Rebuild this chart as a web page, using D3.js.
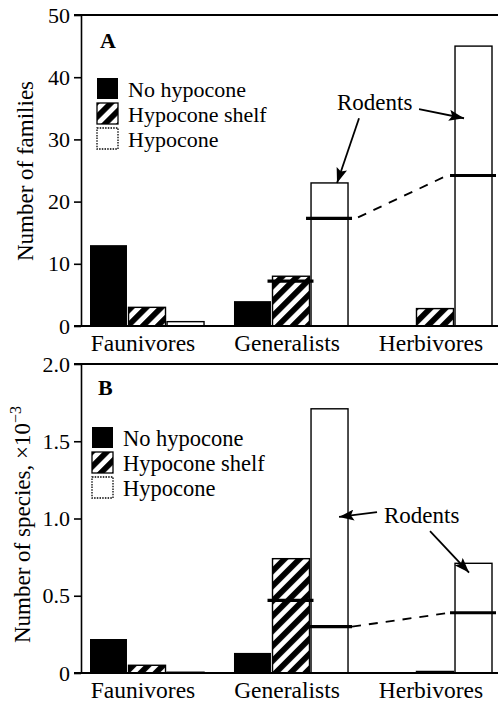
<!DOCTYPE html>
<html><head><meta charset="utf-8">
<script src="https://cdn.jsdelivr.net/npm/d3@7"></script>
<style>
body{margin:0;background:#fff}
svg{display:block;background:#fff}
text{font-family:"Liberation Serif","Times New Roman",serif;fill:#000}
</style>
</head><body>
<svg id="c" width="498" height="709"></svg>
<script>
// ---------- data ----------
const categories = ["Faunivores", "Generalists", "Herbivores"];
const seriesNames = ["No hypocone", "Hypocone shelf", "Hypocone"];

// Panel A: number of families
const familiesNoHypocone = [13, 4, 0];
const familiesShelf = [3, 8, 2.8];
const familiesHypocone = [0.7, 23, 45];
// rodent contribution marks (Generalists shelf, Generalists hypocone, Herbivores hypocone)
const familiesRodentShelf = [null, 7.2, null];
const familiesRodentHypocone = [null, 17.3, 24.2];
const familiesTicks = [0, 10, 20, 30, 40, 50];
const familiesTickLabels = ["0", "10", "20", "30", "40", "50"];

// Panel B: number of species (x10^-3)
const speciesNoHypocone = [0.22, 0.13, 0];
const speciesShelf = [0.05, 0.74, 0.01];
const speciesHypocone = [0.005, 1.71, 0.71];
const speciesRodentShelf = [null, 0.47, null];
const speciesRodentHypocone = [null, 0.30, 0.39];
const speciesTicks = [0, 0.5, 1.0, 1.5, 2.0];
const speciesTickLabels = ["0", "0.5", "1.0", "1.5", "2.0"];

// ---------- drawing ----------
const svg = d3.select("#c");
const defs = svg.append("defs");
const P = 10.6;
const pat = defs.append("pattern").attr("id", "hatch")
  .attr("patternUnits", "userSpaceOnUse").attr("width", P).attr("height", P)
  .attr("patternTransform", "rotate(45)");
pat.append("rect").attr("width", P).attr("height", P).attr("fill", "#fff");
pat.append("rect").attr("width", P / 2 + 0.4).attr("height", P).attr("fill", "#000");

defs.append("marker").attr("id", "arr")
  .attr("viewBox", "0 0 15 11").attr("refX", 15).attr("refY", 5.5)
  .attr("markerWidth", 15).attr("markerHeight", 11)
  .attr("markerUnits", "userSpaceOnUse").attr("orient", "auto")
  .append("path").attr("d", "M0,0 L15,5.5 L0,11 L3,5.5 Z").attr("fill", "#000");

const x0 = d3.scaleBand().domain(categories).range([90, 492]).paddingInner(0.208).paddingOuter(0);
const x1 = d3.scaleBand().domain(seriesNames).range([0, x0.bandwidth()]).paddingInner(0.04);
const fills = {"No hypocone": "#000", "Hypocone shelf": "url(#hatch)", "Hypocone": "#fff"};

function panel(cfg) {
  const g = svg.append("g");
  const y = d3.scaleLinear().domain(cfg.domain).range([cfg.bottom, cfg.top]);
  const axisX = 81;

  // bars
  const rows = [];
  categories.forEach((c, i) => {
    cfg.values.forEach((arr, s) => rows.push({cat: c, ser: seriesNames[s], v: arr[i]}));
  });
  g.selectAll("rect.bar").data(rows.filter(d => d.v > 0)).join("rect")
    .attr("class", "bar")
    .attr("x", d => x0(d.cat) + x1(d.ser))
    .attr("width", x1.bandwidth())
    .attr("y", d => y(d.v))
    .attr("height", d => y(0) - y(d.v))
    .attr("fill", d => fills[d.ser])
    .attr("stroke", "#000")
    .attr("stroke-width", d => d.ser === "No hypocone" ? 0 : 1.4);

  // axis
  const ax = g.append("g").attr("transform", `translate(${axisX},0)`)
    .call(d3.axisLeft(y).tickValues(cfg.ticks).tickSize(7).tickSizeOuter(0).tickPadding(4)
      .tickFormat((d, i) => cfg.tickLabels[i]));
  ax.selectAll("path,line").attr("stroke", "#000").attr("stroke-width", 1.6);
  ax.selectAll("text").attr("font-size", 22).attr("font-family", '"Liberation Serif",serif');

  // frame lines top and bottom
  g.append("line").attr("x1", axisX - 7).attr("x2", 498).attr("y1", y(cfg.domain[1])).attr("y2", y(cfg.domain[1]))
    .attr("stroke", "#000").attr("stroke-width", 2);
  g.append("line").attr("x1", axisX - 7).attr("x2", 498).attr("y1", y(0)).attr("y2", y(0))
    .attr("stroke", "#000").attr("stroke-width", 2);

  // category labels
  g.selectAll("text.cat").data(categories).join("text").attr("class", "cat")
    .attr("x", d => x0(d) + x0.bandwidth() / 2 - 4)
    .attr("y", y(0) + 25)
    .attr("text-anchor", "middle").attr("font-size", 23.5).text(d => d);

  // rodent marks
  const marks = [];
  categories.forEach((c, i) => {
    if (cfg.rodentShelf[i] != null) marks.push({cat: c, ser: "Hypocone shelf", v: cfg.rodentShelf[i]});
    if (cfg.rodentHyp[i] != null) marks.push({cat: c, ser: "Hypocone", v: cfg.rodentHyp[i]});
  });
  g.selectAll("line.mark").data(marks).join("line").attr("class", "mark")
    .attr("x1", d => x0(d.cat) + x1(d.ser) - 5)
    .attr("x2", d => x0(d.cat) + x1(d.ser) + x1.bandwidth() + 4)
    .attr("y1", d => y(d.v)).attr("y2", d => y(d.v))
    .attr("stroke", "#000").attr("stroke-width", 3.2);
  // dashed connection between hypocone rodent marks
  const hm = marks.filter(d => d.ser === "Hypocone");
  g.append("line")
    .attr("x1", x0(hm[0].cat) + x1("Hypocone") + x1.bandwidth() + 4 + cfg.dashGap[0])
    .attr("y1", y(hm[0].v) - cfg.dashGap[2])
    .attr("x2", x0(hm[1].cat) + x1("Hypocone") - 5 - cfg.dashGap[1])
    .attr("y2", y(hm[1].v) + cfg.dashGap[3])
    .attr("stroke", "#000").attr("stroke-width", 1.8).attr("stroke-dasharray", "9,8");

  // panel letter
  g.append("text").attr("x", cfg.letterX).attr("y", cfg.letterY).attr("font-size", 22)
    .attr("font-weight", "bold").text(cfg.letter);

  // legend
  const lg = g.append("g");
  seriesNames.forEach((s, i) => {
    const yy = cfg.legY + i * cfg.legStep;
    lg.append("rect").attr("x", cfg.legX).attr("y", yy).attr("width", 21).attr("height", 21)
      .attr("fill", fills[s]).attr("stroke", "#000")
      .attr("stroke-width", s === "No hypocone" ? 0 : 1.3)
      .attr("stroke-dasharray", s === "Hypocone" ? "1.5,1.2" : null);
    lg.append("text").attr("x", cfg.legX + 31).attr("y", yy + 19).attr("font-size", cfg.legFont).text(s);
  });

  // y label
  const yl = g.append("text").attr("font-size", 23)
    .attr("transform", `translate(${cfg.ylabX},${cfg.ylabY}) rotate(-90)`)
    .attr("text-anchor", cfg.ylabAnchor);
  yl.append("tspan").text(cfg.ylabel);
  if (cfg.ylabSup) yl.append("tspan").attr("dy", -9).attr("font-size", 16).text(cfg.ylabSup);

  // annotation "Rodents"
  const a = cfg.ann;
  const xb = (c, s) => x0(c) + x1(s);
  g.append("text").attr("x", xb(a.textCat, "Hypocone") + a.textDx).attr("y", y(a.textV))
    .attr("font-size", 23).text("Rodents");
  a.arrows.forEach(r => {
    g.append("line")
      .attr("x1", xb(a.textCat, "Hypocone") + r.fromDx).attr("y1", y(a.textV) + r.fromDy)
      .attr("x2", xb(r.cat, "Hypocone") + r.tipDx).attr("y2", y(r.tipV))
      .attr("stroke", "#000").attr("stroke-width", 1.8).attr("marker-end", "url(#arr)");
  });
}

panel({
  domain: [0, 50], top: 15, bottom: 326,
  values: [familiesNoHypocone, familiesShelf, familiesHypocone],
  rodentShelf: familiesRodentShelf, rodentHyp: familiesRodentHypocone,
  ticks: familiesTicks, tickLabels: familiesTickLabels,
  letter: "A", letterX: 100, letterY: 48,
  legX: 97, legY: 78, legStep: 25, legFont: 22,
  ylabel: "Number of families", ylabX: 33, ylabY: 171, ylabAnchor: "middle",
  dashGap: [6, 5, 1, 1],
  ann: {textCat: "Generalists", textDx: 26, textV: 34.7,
    arrows: [
      {fromDx: 48, fromDy: 8, cat: "Generalists", tipDx: 26, tipV: 23},
      {fromDx: 108, fromDy: -1, cat: "Herbivores", tipDx: 9, tipV: 33.4}
    ]}
});

panel({
  domain: [0, 2.0], top: 364, bottom: 673,
  values: [speciesNoHypocone, speciesShelf, speciesHypocone],
  rodentShelf: speciesRodentShelf, rodentHyp: speciesRodentHypocone,
  ticks: speciesTicks, tickLabels: speciesTickLabels,
  letter: "B", letterX: 98, letterY: 395,
  legX: 92, legY: 427, legStep: 25, legFont: 22.5,
  ylabel: "Number of species, \u00d710", ylabSup: "\u22123", ylabX: 30, ylabY: 643, ylabAnchor: "start",
  dashGap: [0, 0, 0, 0],
  ann: {textCat: "Herbivores", textDx: -71, textV: 0.97,
    arrows: [
      {fromDx: -78, fromDy: -11, cat: "Generalists", tipDx: 28, tipV: 1.01},
      {fromDx: -25, fromDy: 8, cat: "Herbivores", tipDx: 14, tipV: 0.65}
    ]}
});
</script>
</body></html>
